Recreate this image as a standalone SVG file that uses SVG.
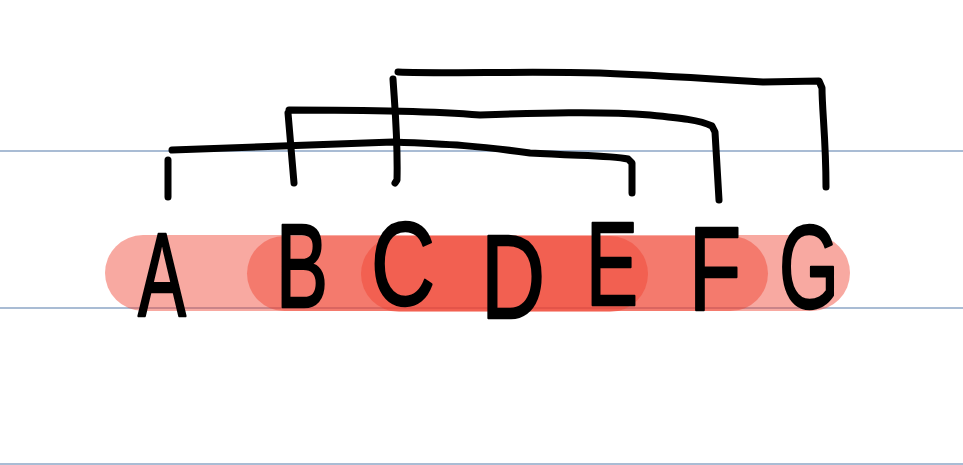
<svg xmlns="http://www.w3.org/2000/svg" width="963" height="465" viewBox="0 0 963 465">
<style>
.rule{stroke:#a9bcd4;stroke-width:2;fill:none}
.pill{fill:#ef412f;fill-opacity:0.45}
.br{fill:none;stroke:#000;stroke-width:7;stroke-linecap:round;stroke-linejoin:round}
.lt{font-family:"Liberation Sans",Arial,sans-serif;font-size:118px;fill:#000;stroke:#000;stroke-width:2.5;stroke-linejoin:round;text-anchor:middle}
</style>
<rect width="963" height="465" fill="#fff"/>
<g id="rules">
<line class="rule" x1="0" y1="151" x2="963" y2="151"/>
<line class="rule" x1="0" y1="308" x2="963" y2="308"/>
<line class="rule" x1="0" y1="464" x2="963" y2="464"/>
</g>
<g id="ranges">
<rect id="range-AG" class="pill" x="105" y="235" width="745" height="76" rx="38"/>
<rect id="range-BF" class="pill" x="247" y="236" width="521" height="75" rx="37.5"/>
<rect id="range-CE" class="pill" x="361" y="236" width="287" height="76" rx="38"/>
</g>
<g id="connectors">
<path class="br" d="M168,160 L168,197 M172,150 C230,148 300,146 393,142 C450,144 480,146 530,153 C580,156 610,155 628,159 L632,163 L632,193"/>
<path class="br" d="M288,113 L294,183 M289,110 C350,110 430,111 480,115 C540,113 600,111 650,115 C680,118 700,120 712,126 L715,132 L719,200"/>
<path class="br" d="M393,79 C395,110 398,140 397,180 L395,183 M398,72 C450,74 520,71 600,73 C650,75 700,78 763,82 L819,81 L822,88 C822,110 826,140 826,187"/>
</g>
<g id="letters">
<g id="node-A"><text class="lt" x="162" y="316" textLength="48" lengthAdjust="spacingAndGlyphs">A</text></g>
<g id="node-B"><text class="lt" x="302" y="307" textLength="52" lengthAdjust="spacingAndGlyphs">B</text></g>
<g id="node-C"><text class="lt" x="403" y="305" textLength="64" lengthAdjust="spacingAndGlyphs">C</text></g>
<g id="node-D"><text class="lt" x="513" y="318" textLength="64" lengthAdjust="spacingAndGlyphs">D</text></g>
<g id="node-E"><text class="lt" x="612" y="305" textLength="52" lengthAdjust="spacingAndGlyphs">E</text></g>
<g id="node-F"><text class="lt" x="715" y="310" textLength="52" lengthAdjust="spacingAndGlyphs">F</text></g>
<g id="node-G"><text class="lt" x="809" y="308" textLength="60" lengthAdjust="spacingAndGlyphs">G</text></g>
</g>
</svg>
